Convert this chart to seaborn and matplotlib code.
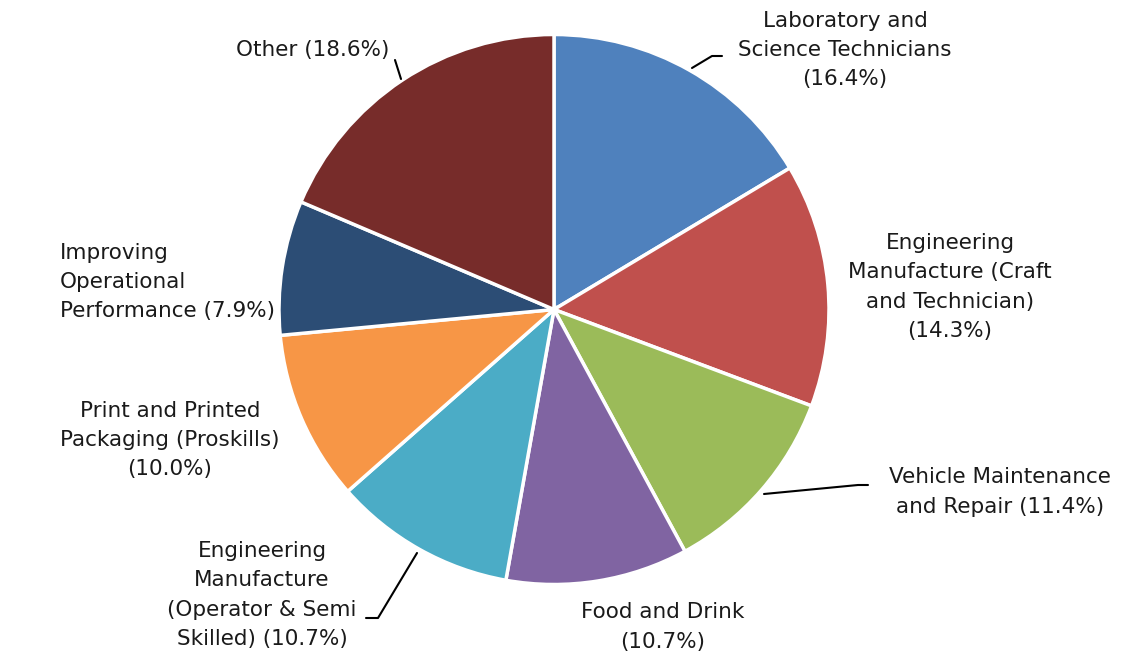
import matplotlib
matplotlib.use("Agg")
import matplotlib.pyplot as plt
import seaborn as sns

sns.set_theme(style="white")
plt.rcParams['font.family'] = ['DejaVu Sans']

categories = [
    "Laboratory and\nScience Technicians",
    "Engineering\nManufacture (Craft\nand Technician)",
    "Vehicle Maintenance\nand Repair",
    "Food and Drink",
    "Engineering\nManufacture\n(Operator & Semi\nSkilled)",
    "Print and Printed\nPackaging (Proskills)",
    "Improving\nOperational\nPerformance",
    "Other",
]
values = [16.4, 14.3, 11.4, 10.7, 10.7, 10.0, 7.9, 18.6]
label_texts = [
    "Laboratory and\nScience Technicians\n(16.4%)",
    "Engineering\nManufacture (Craft\nand Technician)\n(14.3%)",
    "Vehicle Maintenance\nand Repair (11.4%)",
    "Food and Drink\n(10.7%)",
    "Engineering\nManufacture\n(Operator & Semi\nSkilled) (10.7%)",
    "Print and Printed\nPackaging (Proskills)\n(10.0%)",
    "Improving\nOperational\nPerformance (7.9%)",
    "Other (18.6%)",
]
colors = ["#4F81BD", "#C0504D", "#9BBB59", "#8064A2", "#4BACC6",
          "#F79646", "#2C4D75", "#772C2A"]

W, H = 1138, 658
fig = plt.figure(figsize=(W / 100, H / 100), dpi=100)
ax = fig.add_axes([0, 0, 1, 1])

def py(y):
    return H - y

cx, cy, r = 554, 309.5, 275
ax.pie(values, colors=colors, startangle=90, counterclock=False,
       center=(cx, py(cy)), radius=r, frame=True,
       wedgeprops=dict(edgecolor="white", linewidth=2.5))
ax.set_xlim(0, W)
ax.set_ylim(0, H)
ax.set_aspect("equal")
ax.axis("off")

# label layout (pixel coords, x, y, ha, multialignment)
label_pos = [
    (845, 50, "center", "center"),
    (950, 287, "center", "center"),
    (1000, 492, "center", "center"),
    (663, 627, "center", "center"),
    (262, 595, "center", "center"),
    (170, 440, "center", "center"),
    (60, 282, "left", "left"),
    (313, 50, "center", "center"),
]
for txt, (x, y, ha, ma) in zip(label_texts, label_pos):
    ax.text(x, py(y), txt, ha=ha, va="center", fontsize=15.5,
            color="#1a1a1a", linespacing=1.58, multialignment=ma)

leaders = [
    [(692, 68), (712, 56), (722, 56)],
    [(764, 494), (858, 485), (868, 485)],
    [(417, 553), (378, 618), (366, 618)],
    [(395, 60), (401, 79)],
]
for pts in leaders:
    ax.plot([p[0] for p in pts], [py(p[1]) for p in pts], color="black", lw=1.5)

fig.savefig("out.png", dpi=100)
